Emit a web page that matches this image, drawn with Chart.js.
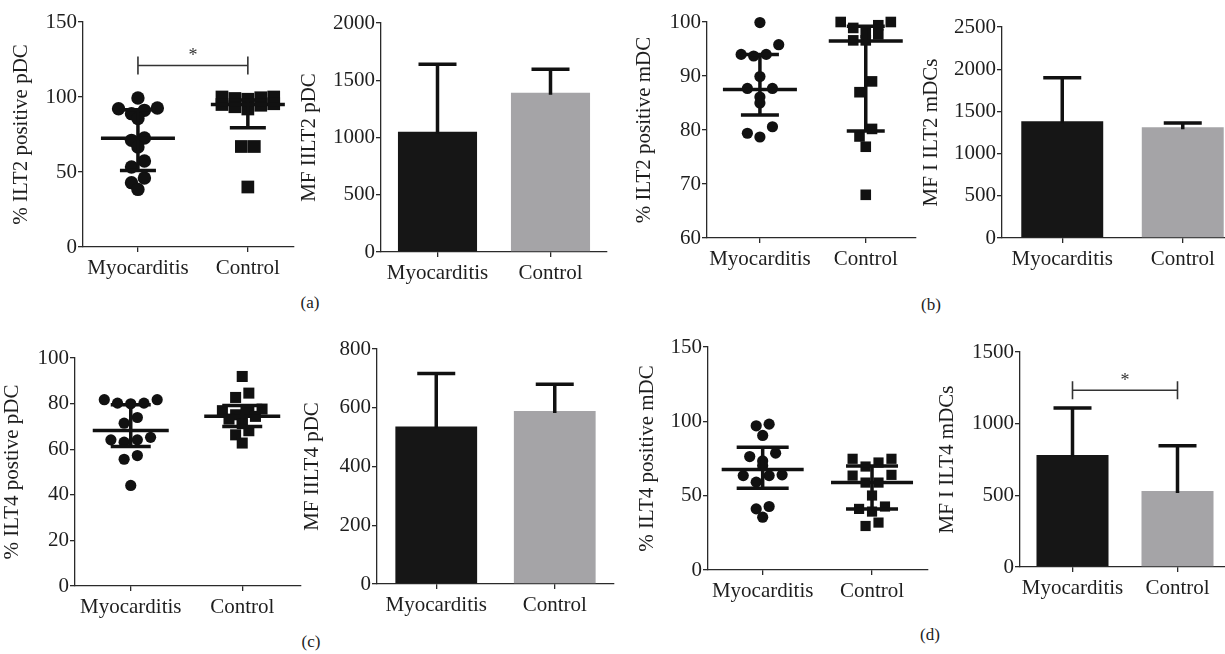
<!DOCTYPE html>
<html>
<head>
<meta charset="utf-8">
<script src="https://cdn.jsdelivr.net/npm/chart.js@4.4.0/dist/chart.umd.min.js"></script>
<style>
  html, body { margin: 0; padding: 0; background: #fff; overflow: hidden; }
  #fig { position: relative; width: 1225px; height: 654px; background: #fff; }
  #fig canvas { position: absolute; }
  .tag { position: absolute; font: 17px "Liberation Serif", serif; color: #222; transform: translate(-50%, -50%); }
</style>
</head>
<body>
<div id="fig">
  <div class="tag" style="left:310px;top:303px">(a)</div>
  <div class="tag" style="left:931px;top:305px">(b)</div>
  <div class="tag" style="left:311px;top:642px">(c)</div>
  <div class="tag" style="left:930px;top:635px">(d)</div>
</div>
<script>
// -----------------------------
// DATA
// -----------------------------
const GROUPS = ["Myocarditis", "Control"];

// (a) ILT2 on pDC
const pdcIlt2Myo = [99.3, 92.7, 92.2, 91.1, 88.9, 85.6, 72.7, 71.1, 66.7, 57.3, 53.3, 46, 42.9, 38.4];
const pdcIlt2Ctrl = [100, 100, 99.5, 99, 98.5, 95.5, 95, 94.5, 93.5, 92, 67, 67, 40];
const pdcIlt2Median = [72.5, 95];
const pdcIlt2Q1 = [51, 79.5];
const pdcIlt2Q3 = [91.5, 98];
const pdcIlt2Mfi = [1050, 1390];
const pdcIlt2MfiSd = [590, 205];

// (b) ILT2 on mDC
const mdcIlt2Myo = [99.9, 95.8, 94.0, 94.0, 93.7, 89.9, 87.7, 87.7, 86.1, 85.0, 80.6, 79.4, 78.7];
const mdcIlt2Ctrl = [100, 100, 99.4, 98.9, 98.0, 97.7, 96.6, 96.6, 89.0, 87.0, 80.2, 78.8, 76.9, 68.0];
const mdcIlt2Median = [87.5, 96.5];
const mdcIlt2Q1 = [82.8, 79.8];
const mdcIlt2Q3 = [94.0, 99.2];
const mdcIlt2Mfi = [1382, 1311];
const mdcIlt2MfiSd = [518, 51];

// (c) ILT4 on pDC
const pdcIlt4Myo = [81.7, 81.7, 80.2, 80.2, 79.9, 73.9, 71.4, 65.2, 64.1, 64.1, 63.1, 57.2, 55.6, 44.1];
const pdcIlt4Ctrl = [91.9, 84.6, 82.7, 77.6, 76.9, 76.9, 75.1, 74.4, 73.2, 72.2, 71.2, 68.1, 66.3, 62.7];
const pdcIlt4Median = [68.2, 74.5];
const pdcIlt4Q1 = [61.2, 70];
const pdcIlt4Q3 = [79.5, 79.2];
const pdcIlt4Mfi = [536, 589];
const pdcIlt4MfiSd = [181, 91];

// (d) ILT4 on mDC
const mdcIlt4Myo = [98.1, 97.0, 90.5, 78.6, 76.3, 73.4, 70.1, 64.0, 63.5, 63.5, 59.1, 42.7, 41.1, 35.5];
const mdcIlt4Ctrl = [74.8, 74.8, 72.3, 69.6, 64.0, 63.5, 58.8, 58.8, 50.1, 42.7, 41.1, 39.3, 31.9, 29.6];
const mdcIlt4Median = [67.6, 58.8];
const mdcIlt4Q1 = [55, 41];
const mdcIlt4Q3 = [82.6, 70];
const mdcIlt4Mfi = [781, 531];
const mdcIlt4MfiSd = [329, 315];

// significance brackets (bracket level, star level)
const pdcIlt2Sig = [121, 130];
const mdcIlt4MfiSig = [1233, 1326];

// -----------------------------
// LAYOUT
// -----------------------------
const LAYOUT = {
  a1: { ax: 83,   ex: 300,  ty: 22,  by: 247, gap: 61 },
  a2: { ax: 381,  ex: 607,  ty: 23,  by: 252, gap: 71 },
  b1: { ax: 707,  ex: 920,  ty: 22,  by: 238, gap: 62 },
  b2: { ax: 1002, ex: 1243, ty: 27,  by: 238, gap: 70 },
  c1: { ax: 75,   ex: 305,  ty: 358, by: 586, gap: 62 },
  c2: { ax: 377,  ex: 614,  ty: 349, by: 584, gap: 64 },
  d1: { ax: 708,  ex: 932,  ty: 347, by: 570, gap: 60 },
  d2: { ax: 1020, ex: 1230, ty: 352, by: 567, gap: 72 },
};

const INK = "#1e1e1e";
const AXIS = "#2a2a2a";
const BLACK = "#161616";
const GREY = "#a5a4a7";
const FONT = '"Liberation Serif", "Times New Roman", serif';
const FS = 21;

Chart.defaults.font.family = FONT;
Chart.defaults.color = INK;
Chart.defaults.animation = false;

function place(g) {
  const left = Math.round(g.ax - g.gap - FS * 0.6);
  const top = g.ty - 20;
  const w = g.ex - left + 3;
  const h = g.by - top + 50;
  const c = document.createElement("canvas");
  c.width = w;
  c.height = h;
  Object.assign(c.style, { left: left + "px", top: top + "px", width: w + "px", height: h + "px" });
  document.getElementById("fig").appendChild(c);
  return { c, yw: g.ax - left };
}

function yAxis(yw, min, max, step, title) {
  return {
    min, max,
    ticks: { stepSize: step, padding: 1, font: { size: FS }, color: INK, callback: (v) => String(v) },
    grid: { drawOnChartArea: false, tickLength: 5, color: AXIS, lineWidth: 1.3 },
    border: { color: AXIS, width: 1.3 },
    title: { display: true, text: title, font: { size: FS }, color: INK, padding: 0 },
    afterFit(s) { s.width = yw; },
  };
}

const xTicks = { padding: 4, font: { size: FS }, color: INK, autoSkip: false, maxRotation: 0 };
const xGrid = { drawOnChartArea: false, tickLength: 5, color: AXIS, lineWidth: 1.3, offset: false };

// -----------------------------
// PLUGINS
// -----------------------------
const iqrPlugin = {
  id: "iqr",
  afterDatasetsDraw(chart, args, o) {
    const { x, y } = chart.scales;
    const ctx = chart.ctx;
    ctx.save();
    ctx.strokeStyle = "#111";
    ctx.lineWidth = 3.5;
    o.median.forEach((m, i) => {
      const cx = x.getPixelForValue(i);
      const pm = y.getPixelForValue(m), p1 = y.getPixelForValue(o.q1[i]), p3 = y.getPixelForValue(o.q3[i]);
      ctx.beginPath();
      ctx.moveTo(cx - o.half, pm); ctx.lineTo(cx + o.half, pm);
      ctx.moveTo(cx, p1); ctx.lineTo(cx, p3);
      ctx.moveTo(cx - o.cap, p1); ctx.lineTo(cx + o.cap, p1);
      ctx.moveTo(cx - o.cap, p3); ctx.lineTo(cx + o.cap, p3);
      ctx.stroke();
    });
    ctx.restore();
  },
};

const sdPlugin = {
  id: "sdBars",
  afterDatasetsDraw(chart, args, o) {
    const y = chart.scales.y;
    const ctx = chart.ctx;
    const vals = chart.data.datasets[0].data;
    ctx.save();
    ctx.strokeStyle = "#111";
    ctx.lineWidth = 3.5;
    chart.getDatasetMeta(0).data.forEach((bar, i) => {
      const top = y.getPixelForValue(vals[i] + o.sd[i]);
      ctx.beginPath();
      ctx.moveTo(bar.x, bar.y + 2); ctx.lineTo(bar.x, top);
      ctx.moveTo(bar.x - 19, top); ctx.lineTo(bar.x + 19, top);
      ctx.stroke();
    });
    ctx.restore();
  },
};

const bracketPlugin = {
  id: "bracket",
  afterDatasetsDraw(chart, args, o) {
    if (!o.level) return;
    const { x, y } = chart.scales;
    const ctx = chart.ctx;
    const x0 = x.getPixelForValue(0), x1 = x.getPixelForValue(1);
    const py = y.getPixelForValue(o.level[0]);
    ctx.save();
    ctx.strokeStyle = "#333";
    ctx.lineWidth = 1.6;
    ctx.beginPath();
    ctx.moveTo(x0, py); ctx.lineTo(x1, py);
    ctx.moveTo(x0, py - 9); ctx.lineTo(x0, py + 9);
    ctx.moveTo(x1, py - 9); ctx.lineTo(x1, py + 9);
    ctx.stroke();
    ctx.fillStyle = "#333";
    ctx.font = "18px " + FONT;
    ctx.textAlign = "center";
    ctx.textBaseline = "middle";
    ctx.fillText("*", (x0 + x1) / 2, y.getPixelForValue(o.level[1]) + 4);
    ctx.restore();
  },
};

// spread points of one group sideways in rows, like a dot plot
function swarm(chart, values, gi, stepPx, binFactor) {
  const { x, y } = chart.scales;
  const unitPx = Math.abs(y.getPixelForValue(1) - y.getPixelForValue(0));
  const stepX = stepPx / (x.getPixelForValue(1) - x.getPixelForValue(0));
  const order = values.map((v, i) => i).sort((a, b) => values[b] - values[a]);
  const bins = [];
  order.forEach((i) => {
    const last = bins[bins.length - 1];
    if (last && (values[last[0]] - values[i]) * unitPx < stepPx * binFactor) last.push(i);
    else bins.push([i]);
  });
  const pts = [];
  bins.forEach((bin) => {
    const n = bin.length;
    const slots = [];
    for (let k = 0; k < n; k++) slots.push(k - (n - 1) / 2);
    slots.sort((a, b) => Math.abs(b) - Math.abs(a) || b - a);
    bin.forEach((idx, j) => pts.push({ x: gi + slots[j] * stepX, y: values[idx] }));
  });
  return pts;
}

// -----------------------------
// PANELS
// -----------------------------
function dotPanel(g, p) {
  const { c, yw } = place(g);
  const chart = new Chart(c, {
    type: "scatter",
    data: {
      datasets: [
        { data: [], pointStyle: "circle", pointRadius: p.rCircle, backgroundColor: "#111", borderWidth: 0, clip: false },
        { data: [], pointStyle: "rect", pointRadius: p.rSquare, backgroundColor: "#111", borderWidth: 0, clip: false },
      ],
    },
    options: {
      responsive: false,
      devicePixelRatio: 1,
      layout: { padding: { top: 20, right: 3, left: 0, bottom: 0 } },
      plugins: {
        legend: { display: false },
        tooltip: { enabled: false },
        iqr: { median: p.median, q1: p.q1, q3: p.q3, half: p.half, cap: p.cap },
        bracket: { level: p.sig },
      },
      scales: {
        x: {
          type: "linear", min: -0.5, max: p.xMax,
          afterBuildTicks(s) { s.ticks = [{ value: 0 }, { value: 1 }]; },
          ticks: { ...xTicks, callback: (v) => GROUPS[v] },
          grid: xGrid,
          border: { color: AXIS, width: 1.3 },
          afterFit(s) { s.height = 50; },
        },
        y: yAxis(yw, p.min, p.max, p.step, p.title),
      },
    },
    plugins: [iqrPlugin, bracketPlugin],
  });
  chart.data.datasets[0].data = swarm(chart, p.myo, 0, p.stepPx, p.bin);
  chart.data.datasets[1].data = swarm(chart, p.ctrl, 1, p.stepPx, p.bin);
  chart.update("none");
}

function barPanel(g, p) {
  const { c, yw } = place(g);
  new Chart(c, {
    type: "bar",
    data: {
      labels: GROUPS,
      datasets: [{
        data: p.mean,
        backgroundColor: [BLACK, GREY],
        borderWidth: 0,
        barPercentage: p.bp,
        categoryPercentage: 1,
      }],
    },
    options: {
      responsive: false,
      devicePixelRatio: 1,
      layout: { padding: { top: 20, right: 3, left: 0, bottom: 0 } },
      plugins: {
        legend: { display: false },
        tooltip: { enabled: false },
        sdBars: { sd: p.sd },
        bracket: { level: p.sig },
      },
      scales: {
        x: {
          type: "category", offset: true,
          ticks: xTicks,
          grid: xGrid,
          border: { color: AXIS, width: 1.3 },
          afterFit(s) { s.height = 50; },
        },
        y: yAxis(yw, 0, p.max, p.step, p.title),
      },
    },
    plugins: [sdPlugin, bracketPlugin],
  });
}

dotPanel(LAYOUT.a1, {
  title: "% ILT2 positive pDC", min: 0, max: 150, step: 50, xMax: 1.42,
  myo: pdcIlt2Myo, ctrl: pdcIlt2Ctrl, median: pdcIlt2Median, q1: pdcIlt2Q1, q3: pdcIlt2Q3,
  rCircle: 6.7, rSquare: 9, stepPx: 13.3, bin: 0.5, half: 37, cap: 18, sig: pdcIlt2Sig,
});
barPanel(LAYOUT.a2, { title: "MF IILT2 pDC", max: 2000, step: 500, mean: pdcIlt2Mfi, sd: pdcIlt2MfiSd, bp: 0.70 });

dotPanel(LAYOUT.b1, {
  title: "% ILT2 positive mDC", min: 60, max: 100, step: 10, xMax: 1.47,
  myo: mdcIlt2Myo, ctrl: mdcIlt2Ctrl, median: mdcIlt2Median, q1: mdcIlt2Q1, q3: mdcIlt2Q3,
  rCircle: 5.6, rSquare: 7.5, stepPx: 12.8, bin: 0.9, half: 37, cap: 19,
});
barPanel(LAYOUT.b2, { title: "MF I ILT2 mDCs", max: 2500, step: 500, mean: mdcIlt2Mfi, sd: mdcIlt2MfiSd, bp: 0.68 });

dotPanel(LAYOUT.c1, {
  title: "% ILT4 postive pDC", min: 0, max: 100, step: 20, xMax: 1.52,
  myo: pdcIlt4Myo, ctrl: pdcIlt4Ctrl, median: pdcIlt4Median, q1: pdcIlt4Q1, q3: pdcIlt4Q3,
  rCircle: 5.6, rSquare: 7.8, stepPx: 13.5, bin: 0.5, half: 38, cap: 20,
});
barPanel(LAYOUT.c2, { title: "MF IILT4 pDC", max: 800, step: 200, mean: pdcIlt4Mfi, sd: pdcIlt4MfiSd, bp: 0.69 });

dotPanel(LAYOUT.d1, {
  title: "% ILT4 positive mDC", min: 0, max: 150, step: 50, xMax: 1.51,
  myo: mdcIlt4Myo, ctrl: mdcIlt4Ctrl, median: mdcIlt4Median, q1: mdcIlt4Q1, q3: mdcIlt4Q3,
  rCircle: 5.6, rSquare: 7.2, stepPx: 13.2, bin: 0.6, half: 41, cap: 26,
});
barPanel(LAYOUT.d2, { title: "MF I ILT4 mDCs", max: 1500, step: 500, mean: mdcIlt4Mfi, sd: mdcIlt4MfiSd, bp: 0.686, sig: mdcIlt4MfiSig });
</script>
</body>
</html>
